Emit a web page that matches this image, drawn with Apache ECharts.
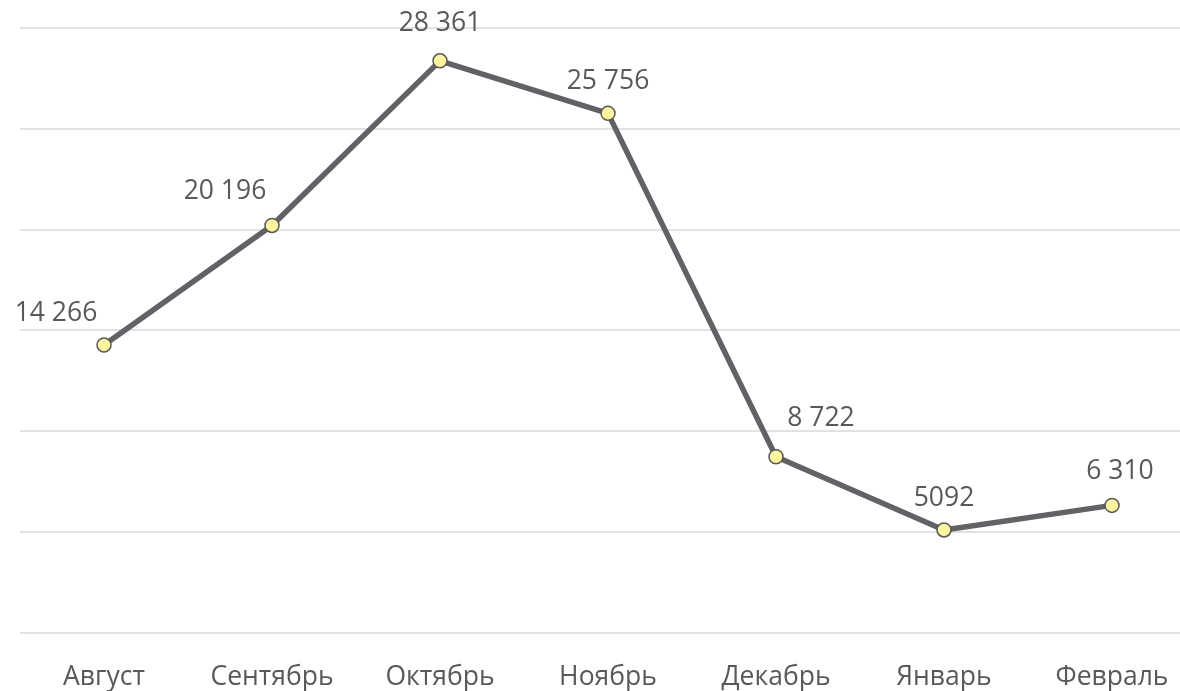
<!DOCTYPE html>
<html>
<head>
<meta charset="utf-8">
<script src="https://cdn.jsdelivr.net/npm/echarts@6/dist/echarts.min.js"></script>
<style>html,body{margin:0;padding:0;background:#fff;}#c{width:1180px;height:691px;}</style>
</head>
<body>
<div id="c"></div>
<script>
const categories = ['Август', 'Сентябрь', 'Октябрь', 'Ноябрь', 'Декабрь', 'Январь', 'Февраль'];
const values = [14266, 20196, 28361, 25756, 8722, 5092, 6310];
const valueLabels = ['14 266', '20 196', '28 361', '25 756', '8 722', '5092', '6 310'];

const labelOffsets = [[-48, -32], [-47, -34], [0, -37], [0, -32], [45, -38], [0, -31], [8, -34]];

const chart = echarts.init(document.getElementById('c'));
chart.setOption({
  animation: false,
  grid: { left: 20, top: 27.8, width: 1176, bottom: 58.4, containLabel: false, outerBoundsMode: 'none' },
  xAxis: {
    type: 'category',
    data: categories,
    boundaryGap: true,
    axisLine: { show: false },
    axisTick: { show: false },
    axisLabel: { color: '#595959', fontSize: 26.5, fontFamily: 'Open Sans, Noto Sans, sans-serif', margin: 31 }
  },
  yAxis: {
    type: 'value',
    min: 0, max: 30000, interval: 5000,
    axisLabel: { show: false },
    axisLine: { show: false },
    axisTick: { show: false },
    splitLine: { lineStyle: { color: '#d9d9d9', width: 1.5 } }
  },
  series: [{
    type: 'line',
    data: values.map((v, i) => ({
      value: v,
      label: { offset: labelOffsets[i] }
    })),
    lineStyle: { color: '#606266', width: 5.5 },
    symbol: 'circle',
    symbolSize: 14,
    itemStyle: { color: '#fff59a', borderColor: '#55575b', borderWidth: 1.5 },
    label: {
      show: true,
      position: 'inside',
      color: '#595959',
      fontSize: 26.5,
      fontFamily: 'Open Sans, Noto Sans, sans-serif',
      formatter: p => valueLabels[p.dataIndex]
    }
  }]
});
</script>
</body>
</html>
